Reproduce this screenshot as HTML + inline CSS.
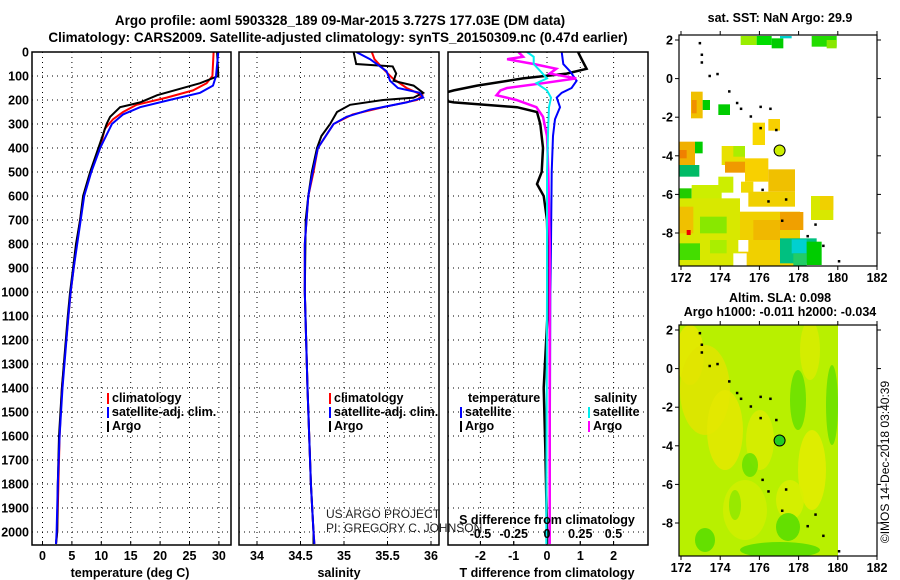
<!DOCTYPE html>
<html><head><meta charset="utf-8">
<style>
body{margin:0;background:#fff;}
svg{display:block;font-family:"Liberation Sans",Arial,sans-serif;}
.b{font-weight:bold;font-size:12.5px;}
.t{font-weight:bold;font-size:13.5px;}
</style></head>
<body>
<svg id="fig" width="900" height="580" viewBox="0 0 900 580">
<rect width="900" height="580" fill="#fff"/>
<text class="t" x="340" y="25" text-anchor="middle">Argo profile: aoml 5903328_189 09-Mar-2015 3.727S 177.03E (DM data)</text>
<text class="t" x="338" y="42" text-anchor="middle">Climatology: CARS2009. Satellite-adjusted climatology: synTS_20150309.nc (0.47d earlier)</text>
<g id="g"></g>
<text x="889" y="462" font-size="12" text-anchor="middle" transform="rotate(-90 889 462)">©IMOS 14-Dec-2018 03:40:39</text>
</svg>
<script>
// ---- data: depths (dbar) ----
const tDepth=[0,100,130,180,210,230,270,300,400,500,600,700,800,900,1000,1100,1400,1600,1800,2000,2050];
const tArgo=[29.7,29.9,26.8,19.5,16.6,13.2,11.5,10.9,9.5,8.1,6.9,6.4,5.7,5.2,4.7,4.3,3.3,2.8,2.6,2.5,2.3];
const tcDepth=[0,100,130,160,190,220,250,280,320,400,500,600,700,800,900,1000,1100,1400,1600,1800,2000,2050];
const tClim=[29.1,28.9,27.9,25.6,21.1,16,13.7,12,10.6,9.8,8.2,7.0,6.4,5.8,5.3,4.8,4.4,3.3,2.9,2.7,2.5,2.3];
const tsDepth=[0,100,140,170,200,230,260,300,400,500,600,700,800,900,1000,1100,1400,1600,1800,2000,2050];
const tSat=[29.9,29.5,29.0,26.8,21.6,16.6,13.7,11.8,9.8,8.3,7.1,6.5,5.9,5.3,4.8,4.4,3.4,2.9,2.6,2.4,2.3];
const sDepth=[0,50,60,90,120,140,170,190,200,220,250,300,350,400,500,600,700,1000,1400,1800,2000,2050];
const sArgo=[35.11,35.14,35.56,35.6,35.57,35.8,35.91,35.8,35.45,35.07,34.92,34.84,34.74,34.69,34.63,34.59,34.56,34.55,34.58,34.62,34.65,34.65];
const scDepth=[0,30,70,110,150,180,200,230,260,300,400,500,600,800,1000,1400,1800,2000,2050];
const sClim=[35.32,35.35,35.45,35.56,35.72,35.9,35.84,35.45,35.1,34.88,34.7,34.65,34.59,34.55,34.55,34.58,34.62,34.65,34.66];
const ssDepth=[0,30,80,120,150,170,190,210,240,270,300,400,500,600,800,1000,1400,1800,2000,2050];
const sSat=[35.14,35.3,35.49,35.53,35.62,35.87,35.91,35.72,35.3,35.03,34.88,34.7,34.64,34.59,34.55,34.55,34.58,34.62,34.65,34.66];
const dtDepth=[0,30,70,90,110,140,160,175,200,210,230,250,300,400,500,550,600,700,1000,1400,1650,2000,2050];
const dtArgo=[0.93,1.04,1.19,0.59,-0.72,-2.1,-2.8,-3.2,-3.2,-2.8,-0.9,-0.3,-0.2,-0.12,-0.16,-0.3,-0.1,0,0.05,-0.1,-0.05,0,0];
const dsatDepth=[0,50,80,120,150,170,190,230,280,350,500,800,1000,2000,2050];
const dtSat=[0.44,0.49,0.69,0.89,0.74,0.44,0.29,0.39,0.24,0.18,0.14,0.12,0.1,0.08,0.08];
const dsDepth=[0,20,30,50,70,90,110,130,150,160,180,200,230,270,350,500,800,2000,2050];
const dsArgo=[-0.215,-0.18,-0.3,-0.1,0.07,0.02,0.22,-0.03,-0.3,-0.35,-0.38,-0.23,-0.08,-0.03,0,0.01,0.02,0.02,0.02];
const dssDepth=[0,20,50,80,110,130,160,190,230,300,500,1000,2000,2050];
const dsSat=[-0.15,-0.1,-0.1,-0.05,0,-0.08,0,0.03,0.015,0.01,0,0,-0.005,-0.005];
const depthTicks=[0,100,200,300,400,500,600,700,800,900,1000,1100,1200,1300,1400,1500,1600,1700,1800,1900,2000];
const tTicks=[0,5,10,15,20,25,30];
const sTicks=[34,34.5,35,35.5,36];
const sTickLabels=["34","34.5","35","35.5","36"];
const dtTicks=[-2,-1,0,1,2];
const dsTicks=[-0.5,-0.25,0,0.25,0.5];
const dsTickLabels=["-0.5","-0.25","0","0.25","0.5"];
const lonTicks=[172,174,176,178,180,182];
const latTicks=[2,0,-2,-4,-6,-8];
const argoLon=177.03, argoLat=-3.727;

const NS='http://www.w3.org/2000/svg';
const G=document.getElementById('g');
function el(tag,at,parent){const e=document.createElementNS(NS,tag);for(const k in at)e.setAttribute(k,at[k]);(parent||G).appendChild(e);return e;}
const yD=d=>52+d*0.24;
const PB=545;
const xT=v=>42.5+v*5.88;
const xS=v=>257+(v-34)*87;
const xDT=v=>547+v*33.3;
const xDS=v=>547+v*133;
const panels=[[32,231],[239,439],[448,648]];

// clip paths
const defs=el('defs',{});
panels.forEach((p,i)=>{const c=el('clipPath',{id:'c'+i},defs);el('rect',{x:p[0],y:52,width:p[1]-p[0],height:PB-52},c);});

// grids
panels.forEach((p,i)=>{
  depthTicks.forEach(d=>{if(d>0){const l=el('line',{x1:p[0],x2:p[1],y1:yD(d),y2:yD(d),stroke:'#000','stroke-width':1,'stroke-dasharray':'1,4'});
  
  }});
});
function vgrid(ticks,fx){ticks.forEach(v=>{const x=fx(v);const l=el('line',{x1:x,x2:x,y1:52,y2:PB,stroke:'#000','stroke-width':1,'stroke-dasharray':'1,4'});


el('line',{x1:x,x2:x,y1:PB,y2:PB-4,stroke:'#000'});});}
vgrid(tTicks,xT);vgrid(sTicks,xS);vgrid(dtTicks,xDT);
dsTicks.forEach(v=>{const x=xDS(v);el('line',{x1:x,x2:x,y1:PB,y2:PB-4,stroke:'#000'});});

function line(depths,vals,fx,color,name,clip,w){
  const pts=depths.map((d,i)=>fx(vals[i]).toFixed(1)+','+yD(d).toFixed(1)).join(' ');
  const p=el('polyline',{points:pts,fill:'none',stroke:color,'stroke-width':w||2,'clip-path':'url(#c'+clip+')'});
  
  
}
line(tcDepth,tClim,xT,'#f00','temp-climatology-line',0);
line(tDepth,tArgo,xT,'#000','temp-argo-line',0);
line(tsDepth,tSat,xT,'#00f','temp-satellite-line',0);
line(scDepth,sClim,xS,'#f00','sal-climatology-line',1);
line(sDepth,sArgo,xS,'#000','sal-argo-line',1);
line(ssDepth,sSat,xS,'#00f','sal-satellite-line',1);
line(dtDepth,dtArgo,xDT,'#000','tdiff-argo-line',2,2.5);
line(dsatDepth,dtSat,xDT,'#00f','tdiff-satellite-line',2);
line(dsDepth,dsArgo,xDS,'#f0f','sdiff-argo-line',2,2.5);
line(dssDepth,dsSat,xDS,'#0ee','sdiff-satellite-line',2);

// frames
panels.forEach((p,i)=>{const r=el('rect',{x:p[0],y:52,width:p[1]-p[0],height:PB-52,fill:'none',stroke:'#000','stroke-width':1.5});

});

function txt(x,y,s,o){const t=el('text',Object.assign({x:x,y:y,'class':'b'},o||{}));t.textContent=s;return t;}
depthTicks.forEach(d=>{const t=txt(29,yD(d)+4.5,String(d),{'text-anchor':'end'});

});
tTicks.forEach(v=>{const t=txt(xT(v),560,String(v),{'text-anchor':'middle'});

});
sTicks.forEach((v,i)=>{const t=txt(xS(v),560,sTickLabels[i],{'text-anchor':'middle'});

});
dtTicks.forEach(v=>{const t=txt(xDT(v),560,String(v),{'text-anchor':'middle'});

});
dsTicks.forEach((v,i)=>{const t=txt(xDS(v),538,dsTickLabels[i],{'text-anchor':'middle'});

});
let a=txt(130,577,'temperature (deg C)',{'text-anchor':'middle'});
a=txt(339,577,'salinity',{'text-anchor':'middle'});
a=txt(547,577,'T difference from climatology',{'text-anchor':'middle'});
a=txt(547,524,'S difference from climatology',{'text-anchor':'middle'});
a=el('text',{x:326,y:518,'font-size':'12',fill:'#222'});a.textContent='US ARGO PROJECT';
a=el('text',{x:326,y:532,'font-size':'12',fill:'#222'});a.textContent='PI: GREGORY C. JOHNSON';

function legend(x,y,color,label){el('rect',{x:x,y:y-9,width:2,height:11,fill:color});const t=txt(x+5,y,label);}
[[107,'#f00','climatology'],[107,'#00f','satellite-adj. clim.'],[107,'#000','Argo']].forEach((e,i)=>legend(e[0],402+i*14,e[1],e[2]));
[[329,'#f00','climatology'],[329,'#00f','satellite-adj. clim.'],[329,'#000','Argo']].forEach((e,i)=>legend(e[0],402+i*14,e[1],e[2]));
a=txt(468,402,'temperature');
legend(460,416,'#00f','satellite');legend(460,430,'#000','Argo');
a=txt(594,402,'salinity');
legend(588,416,'#0ee','satellite');legend(588,430,'#f0f','Argo');

// ---- maps ----
const maps=[{top:35,bot:266,lat2:40,title:['sat. SST: NaN Argo: 29.9'],ty:[22],name:'sst-map'},
            {top:325,bot:556,lat2:330,title:['Altim. SLA: 0.098','Argo h1000: -0.011 h2000: -0.034'],ty:[302,316],name:'sla-map'}];
const mx=lon=>681+(lon-172)*19.6;
maps.forEach((m,mi)=>{
  const my=lat=>m.lat2+(2-lat)*19.3;
  m.my=my;
  const cp=el('clipPath',{id:'m'+mi},defs);el('rect',{x:679,y:m.top,width:198,height:m.bot-m.top},cp);
  const g=el('g',{'clip-path':'url(#m'+mi+')'});
  
  
  m.g=g;
});
// SST cells (zoom coords -> px)
const sst=[[242,108,290,135,'#99ee00'],[290,108,335,135,'#00dd00'],[335,115,370,145,'#00cc00'],[360,108,395,115,'#00d0d0'],[455,108,530,140,'#22dd00'],[500,120,530,145,'#88e800'],
[93,275,128,355,'#f0c000'],[95,300,110,340,'#f09000'],[128,300,150,330,'#00cc00'],[175,313,210,345,'#00cc00'],
[278,368,315,435,'#f8d800'],[325,357,360,392,'#f8d000'],
[58,425,105,495,'#f0b000'],[58,450,80,475,'#f08000'],[105,425,128,460,'#00cc00'],
[185,438,255,495,'#e8e000'],[220,438,255,470,'#aaee00'],[195,485,255,518,'#f09a00'],[255,475,325,545,'#f8d000'],[325,508,405,575,'#f0c000'],
[58,495,118,530,'#00bb66'],[175,530,220,578,'#ccee00'],[243,545,280,578,'#f0d800'],
[58,565,95,600,'#22cc00'],[95,555,185,600,'#ccee00'],[265,575,405,620,'#f0d000'],
[58,595,240,800,'#d8e800'],[240,635,420,800,'#f0d000'],[58,620,100,700,'#f0c000'],[120,650,200,700,'#88e800'],[280,660,360,720,'#f0b800'],[360,636,430,690,'#f0a000'],
[453,588,520,660,'#d8e800'],[480,588,520,630,'#f0d000'],
[80,690,92,705,'#f00000'],[58,730,120,780,'#44dd00'],[150,720,200,760,'#aaee00'],
[360,715,470,790,'#00c080'],[395,718,440,760,'#00d0d0'],[440,725,485,795,'#00cc00'],[220,760,260,800,'#ffffff'],[235,720,265,755,'#ffffff'],[400,760,440,800,'#22cc66']];
sst.forEach(c=>{const r=el('rect',{x:660+c[0]/3,y:c[1]/3,width:(c[2]-c[0])/3,height:(c[3]-c[1])/3,fill:c[4]},maps[0].g);

});
// SLA field
const sg=maps[1].g;
el('rect',{x:679,y:325,width:159,height:231,fill:'#b8f000'},sg);
const blobs=[[690,355,14,30,'#e8e800'],[705,390,25,45,'#e0e400'],[725,430,18,40,'#e4e800'],[760,440,14,30,'#d8ec00'],[812,470,14,40,'#e4ec00'],[810,350,10,30,'#d8ec00'],
[745,510,22,30,'#d0ee00'],[790,500,14,20,'#d8ee00'],[798,400,8,30,'#66e000'],[832,405,6,40,'#66e000'],[750,465,8,12,'#66e000'],[780,550,40,8,'#55dd00'],[705,540,10,12,'#55dd00'],[788,527,12,14,'#55dd00'],[735,505,6,15,'#8ee800']];
blobs.forEach(b=>el('ellipse',{cx:b[0],cy:b[1],rx:b[2],ry:b[3],fill:b[4],opacity:0.85},sg));
maps.forEach((m,mi)=>{
  const g=m.g;
  // coastline dots
  [[172.9,1.9],[173.0,1.3],[173.0,0.9],[173.4,0.2],[173.8,0.3],[174.4,-0.6],[174.8,-1.2],[175.0,-1.5],[175.5,-1.9],[176,-1.4],[176.5,-1.5],[176,-2.5],[176.8,-2.6],[176.1,-5.7],[176.4,-6.3],[177.3,-6.2],[177.1,-7.3],[178.4,-8.1],[178.8,-7.5],[179.2,-8.6],[180,-9.4]].forEach(p=>el('rect',{x:mx(p[0]),y:m.my(p[1]),width:2.5,height:2.5,fill:'#000'},g));
  const c=el('circle',{cx:mx(argoLon),cy:m.my(argoLat),r:5.5,fill:mi?'#22cc22':'#ccee00',stroke:'#000','stroke-width':1});
  
  
  const f=el('rect',{x:679,y:m.top,width:198,height:m.bot-m.top,fill:'none',stroke:'#000','stroke-width':1.2});
  
  
  lonTicks.forEach(v=>{el('line',{x1:mx(v),x2:mx(v),y1:m.bot,y2:m.bot+4,stroke:'#000'});el('line',{x1:mx(v),x2:mx(v),y1:m.top,y2:m.top-4,stroke:'#000'});
    const t=txt(mx(v),m.bot+16,String(v),{'text-anchor':'middle'});});
  latTicks.forEach(v=>{el('line',{x1:675,x2:679,y1:m.my(v),y2:m.my(v),stroke:'#000'});el('line',{x1:877,x2:881,y1:m.my(v),y2:m.my(v),stroke:'#000'});
    const t=txt(673,m.my(v)+4.5,String(v),{'text-anchor':'end'});});
  m.title.forEach((s,i)=>{const t=txt(780,m.ty[i],s,{'text-anchor':'middle'});});
});
</script>
</body></html>
